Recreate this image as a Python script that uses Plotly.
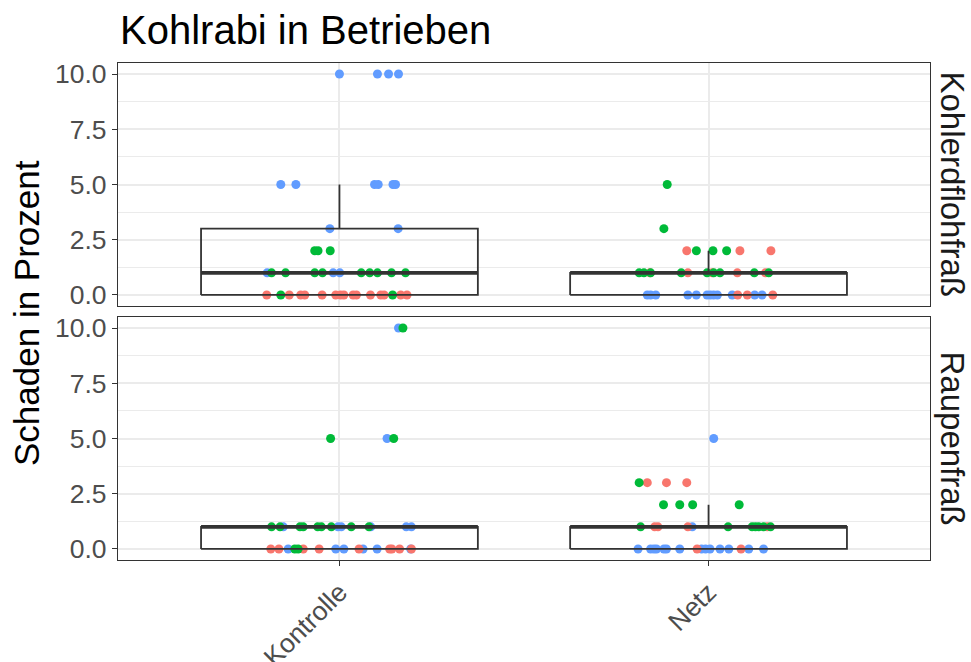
import numpy as np
import plotly.graph_objects as go

# --- data -------------------------------------------------------------------
varianten = ["Kontrolle", "Netz"]
schadensarten = ["Kohlerdflohfraß", "Raupenfraß"]
farben = {"A": "#F8766D", "B": "#00BA38", "C": "#619CFF"}
y_ticks = [0, 2.5, 5, 7.5, 10]
y_ticktext = ["0.0", "2.5", "5.0", "7.5", "10.0"]

# Kohlerdflohfraß – Kontrolle
floh_kontrolle_wert = [10, 10, 10, 10, 5, 5, 5, 5, 5, 5, 3, 3, 2, 2, 2] + [1] * 12 + [0] * 17
floh_kontrolle_betrieb = list("CCCC" + "CCCCCC" + "CC" + "BBB" + "CBBBBCCBBBBB" + "AB" + "A" * 12 + "BAA")
floh_kontrolle_jitter = [0.000, 0.103, 0.133, 0.160, -0.159, -0.118, 0.095, 0.105, 0.145, 0.152,
                         -0.026, 0.159, -0.067, -0.058, -0.025,
                         -0.196, -0.184, -0.146, -0.067, -0.046, -0.017, 0.001, 0.059, 0.082, 0.103, 0.141, 0.179,
                         -0.197, -0.159, -0.136, -0.105, -0.094, -0.047, -0.010, 0.003, 0.012, 0.037, 0.046,
                         0.084, 0.112, 0.121, 0.144, 0.166, 0.183]

# Kohlerdflohfraß – Netz
floh_netz_wert = [5, 3] + [2] * 6 + [1] * 14 + [0] * 15
floh_netz_betrieb = list("B" + "B" + "ABBBAA" + "BBABBABABBABAB" + "C" * 10 + "AACCA")
floh_netz_jitter = [-0.112, -0.121, -0.059, -0.033, 0.012, 0.049, 0.085, 0.169,
                    -0.188, -0.175, -0.159, -0.157, -0.074, -0.056, -0.004, 0.010, 0.014, 0.031, 0.078,
                    0.124, 0.154, 0.163,
                    -0.166, -0.157, -0.143, -0.056, -0.033, -0.004, 0.005, 0.014, 0.024, 0.064, 0.079,
                    0.105, 0.125, 0.145, 0.174]

# Raupenfraß – Kontrolle
raupe_kontrolle_wert = [10, 10, 5, 5, 5] + [1] * 15 + [0] * 17
raupe_kontrolle_betrieb = list("CB" + "BCB" + "BBCBBBBBCCBBCCC" + "AACBBAACCACCAAACA")
raupe_kontrolle_jitter = [0.160, 0.172, -0.024, 0.129, 0.147,
                          -0.184, -0.161, -0.152, -0.107, -0.098, -0.059, -0.049, -0.022, -0.004, 0.005,
                          0.032, 0.080, 0.085, 0.181, 0.195,
                          -0.186, -0.164, -0.139, -0.121, -0.112, -0.098, -0.055, -0.010, 0.012, 0.053,
                          0.064, 0.102, 0.136, 0.142, 0.163, 0.193, 0.195]

# Raupenfraß – Netz
raupe_netz_wert = [5] + [3] * 4 + [2] * 4 + [1] * 12 + [0] * 16
raupe_netz_betrieb = list("C" + "BAAA" + "BBBB" + "BAAACBBBBBAB" + "CCCCCCC" + "A" + "CCCCC" + "A" + "CC")
raupe_netz_jitter = [0.014, -0.188, -0.166, -0.114, -0.059, -0.122, -0.078, -0.043, 0.083,
                     -0.184, -0.146, -0.137, -0.056, -0.044, 0.053, 0.118, 0.127, 0.136, 0.149, 0.159, 0.168,
                     -0.191, -0.157, -0.148, -0.141, -0.121, -0.114, -0.078, -0.031, -0.019, -0.008, 0.004,
                     0.031, 0.055, 0.088, 0.109, 0.149]

gruppen = [
    # (Schadensart-Index, Variante-Index, Werte, Betrieb, Jitter)
    (0, 0, floh_kontrolle_wert, floh_kontrolle_betrieb, floh_kontrolle_jitter),
    (0, 1, floh_netz_wert, floh_netz_betrieb, floh_netz_jitter),
    (1, 0, raupe_kontrolle_wert, raupe_kontrolle_betrieb, raupe_kontrolle_jitter),
    (1, 1, raupe_netz_wert, raupe_netz_betrieb, raupe_netz_jitter),
]

# --- styling ----------------------------------------------------------------
FONT = "Liberation Sans, Arial, sans-serif"
BOX_W = 0.375          # half of the box width in category units
LINE = "#333333"
GRID = "#EBEBEB"
TICK_FONT = dict(family=FONT, size=26.5, color="#4D4D4D")


def box_stats(v):
    v = np.asarray(v, dtype=float)
    q1, med, q3 = np.percentile(v, [25, 50, 75])
    iqr = q3 - q1
    lo = v[v >= q1 - 1.5 * iqr].min()
    hi = v[v <= q3 + 1.5 * iqr].max()
    return q1, med, q3, lo, hi


fig = go.Figure()

for facet, var, werte, betrieb, jitter in gruppen:
    xa = "x" if facet == 0 else "x2"
    ya = "y" if facet == 0 else "y2"
    pos = var + 1
    werte_arr = np.asarray(werte, dtype=float)
    jit = np.asarray(jitter, dtype=float)
    bet = np.asarray(betrieb)

    # jittered points, one trace per farm
    for b in ["C", "A", "B"]:
        m = bet == b
        fig.add_trace(go.Scatter(
            x=pos + jit[m], y=werte_arr[m], mode="markers",
            marker=dict(size=9, color=farben[b], line=dict(width=0)),
            xaxis=xa, yaxis=ya, showlegend=False, hoverinfo="skip",
            name=f"Betrieb {b}",
        ))

    # box outline (drawn on top of the points, no fill)
    q1, med, q3, lo, hi = box_stats(werte)
    fig.add_trace(go.Scatter(
        x=[pos - BOX_W, pos + BOX_W, pos + BOX_W, pos - BOX_W, pos - BOX_W, None,
           pos, pos, None, pos, pos],
        y=[q1, q1, q3, q3, q1, None, q3, hi, None, q1, lo],
        mode="lines", line=dict(color=LINE, width=1.8),
        xaxis=xa, yaxis=ya, showlegend=False, hoverinfo="skip",
    ))
    fig.add_trace(go.Scatter(
        x=[pos - BOX_W, pos + BOX_W], y=[med, med],
        mode="lines", line=dict(color=LINE, width=3.8),
        xaxis=xa, yaxis=ya, showlegend=False, hoverinfo="skip",
    ))

# --- layout -----------------------------------------------------------------
L, R, T, B = 118, 41, 63, 102
W, H = 971, 662
plot_h = H - T - B
gap_top = (560 - 306) / plot_h
gap_bot = (560 - 317) / plot_h

x_common = dict(
    range=[0.4, 2.6], tickmode="array", tickvals=[1, 2], ticktext=varianten,
    showgrid=True, gridcolor=GRID, gridwidth=1.6, zeroline=False,
    showline=True, mirror=True, linecolor=LINE, linewidth=1.3,
    fixedrange=True, automargin=False,
)
y_common = dict(
    range=[-0.5, 10.5], tickmode="array", tickvals=y_ticks, ticktext=y_ticktext,
    showgrid=True, gridcolor=GRID, gridwidth=1.6, zeroline=False,
    showline=True, mirror=True, linecolor=LINE, linewidth=1.3,
    ticks="outside", ticklen=5, tickwidth=1.3, tickcolor=LINE, tickfont=TICK_FONT,
    minor=dict(dtick=1.25, tick0=0, showgrid=True, gridcolor=GRID, gridwidth=0.9, ticks=""),
    fixedrange=True, automargin=False,
)

fig.update_layout(
    width=W, height=H,
    margin=dict(l=L, r=R, t=T, b=B, autoexpand=False),
    paper_bgcolor="white", plot_bgcolor="white",
    font=dict(family=FONT, color="black"),
    showlegend=False,
    xaxis=dict(**x_common, anchor="y", domain=[0, 1], showticklabels=False, ticks=""),
    yaxis=dict(**y_common, anchor="x", domain=[gap_top, 1]),
    xaxis2=dict(**x_common, anchor="y2", domain=[0, 1], ticks="outside", ticklen=5,
                tickwidth=1.3, tickcolor=LINE, tickangle=-45, tickfont=TICK_FONT),
    yaxis2=dict(**y_common, anchor="x2", domain=[0, gap_bot]),
)

plot_w = W - L - R
annotations = [
    dict(text="Kohlrabi in Betrieben", xref="paper", yref="paper",
         x=0, y=1 + (T - 30) / plot_h, xanchor="left", yanchor="middle",
         showarrow=False, font=dict(family=FONT, size=40, color="black")),
    dict(text="Schaden in Prozent", xref="paper", yref="paper",
         x=(26 - L) / plot_w, y=(560 - 313) / plot_h, xanchor="center", yanchor="middle",
         textangle=-90, showarrow=False, font=dict(family=FONT, size=35, color="black")),
]
strip_centres = [(63 + 306) / 2, (317 + 560) / 2]
for name, cy in zip(schadensarten, strip_centres):
    annotations.append(dict(
        text=name, xref="paper", yref="paper",
        x=(952 - L) / plot_w, y=(560 - cy) / plot_h, xanchor="center", yanchor="middle",
        textangle=90, showarrow=False, font=dict(family=FONT, size=33, color="#1A1A1A"),
    ))
fig.update_layout(annotations=annotations)

fig.write_html("out.html")
